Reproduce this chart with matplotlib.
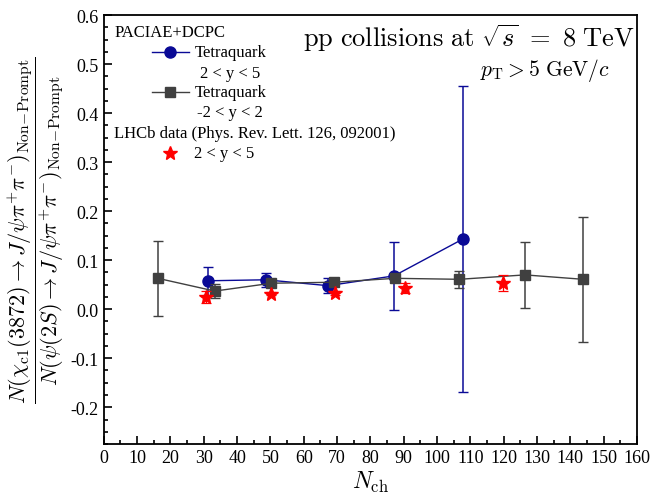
import numpy as np
import matplotlib
matplotlib.use('Agg')
import matplotlib.pyplot as plt
from matplotlib.lines import Line2D

plt.rcParams['font.family'] = 'Liberation Serif'
plt.rcParams['mathtext.fontset'] = 'cm'

# PACIAE+DCPC tetraquark, 2<y<5
nch_fwd = [31.3, 48.6, 67.3, 87.1, 107.7]
r_fwd = [0.058, 0.060, 0.048, 0.068, 0.143]
err_fwd = [0.028, 0.014, 0.015, 0.069, 0.312]

# PACIAE+DCPC tetraquark, -2<y<2
nch_mid = [16.2, 33.3, 50.3, 69.0, 87.4, 106.7, 126.4, 143.8]
r_mid = [0.063, 0.037, 0.053, 0.055, 0.063, 0.061, 0.070, 0.061]
err_mid = [0.077, 0.015, 0.004, 0.004, 0.004, 0.017, 0.068, 0.128]

# LHCb, 2<y<5
nch_lhcb = [30.6, 50.2, 69.4, 90.4, 119.9]
r_lhcb = [0.025, 0.032, 0.034, 0.043, 0.053]
err_lhcb = [0.012, 0.004, 0.004, 0.010, 0.016]

blue = '#0a0a96'
grey = '#404040'

fig = plt.figure(figsize=(6.53, 5.02), dpi=100)
ax = fig.add_axes([0.159, 0.1135, 0.8165, 0.8545])

ax.errorbar(nch_fwd, r_fwd, yerr=err_fwd, color=blue, marker='o', ms=8,
            lw=1.0, elinewidth=1.1, capsize=3.5, capthick=1.0, zorder=3)
ax.errorbar(nch_mid, r_mid, yerr=err_mid, color=grey, marker='s', ms=7,
            lw=1.0, elinewidth=1.1, capsize=3.5, capthick=1.0, zorder=4)
ax.errorbar(nch_lhcb, r_lhcb, yerr=err_lhcb, color='red', marker='*', ms=10,
            ls='none', elinewidth=0.9, capsize=3.5, capthick=0.9, zorder=5)

ax.set_xlim(0, 160)
ax.set_ylim(-0.275, 0.6)
ax.set_xticks(np.arange(0, 161, 10))
ax.set_xticks(np.arange(0, 161, 5), minor=True)
ax.set_yticks(np.arange(-0.2, 0.61, 0.1))
ax.set_yticks(np.arange(-0.275, 0.601, 0.025), minor=True)
ax.set_yticklabels(['-0.2', '-0.1', '0.0', '0.1', '0.2', '0.3', '0.4', '0.5', '0.6'])
ax.tick_params(which='both', direction='in', top=False, right=False,
               labelsize=13, width=1.2)
ax.tick_params(which='major', length=6)
ax.tick_params(which='minor', length=3)
for s in ax.spines.values():
    s.set_linewidth(1.3)

ax.set_xlabel(r'$N_{\rm ch}$', fontsize=17, labelpad=2)
ax.set_ylabel(r'$\dfrac{N(\chi_{\rm c1}(3872)\rightarrow J/\psi\pi^{+}\pi^{-})_{\rm Non\!-\!Prompt}}'
              r'{N(\psi(2S)\rightarrow J/\psi\pi^{+}\pi^{-})_{\rm Non\!-\!Prompt}}$',
              fontsize=16, labelpad=3)

ax.text(0.996, 0.949, r'$\mathrm{pp\ collisions\ at}\ \sqrt{s}\ =\ 8\ \mathrm{TeV}$',
        transform=ax.transAxes, ha='right', va='center', fontsize=19)
ax.text(0.949, 0.874, r'$p_{\rm T} > 5\ {\rm GeV}/c$',
        transform=ax.transAxes, ha='right', va='center', fontsize=15.5)

# hand-made legend
tr = ax.transAxes
ax.text(0.02, 0.96, 'PACIAE+DCPC', transform=tr, ha='left', va='center', fontsize=12)
ax.add_line(Line2D([0.090, 0.159], [0.913, 0.913], transform=tr, color=blue, lw=1.0))
ax.add_line(Line2D([0.124], [0.913], transform=tr, color=blue, marker='o', ms=8))
ax.text(0.171, 0.913, 'Tetraquark', transform=tr, ha='left', va='center', fontsize=12)
ax.text(0.181, 0.866, '2 < y < 5', transform=tr, ha='left', va='center', fontsize=12)
ax.add_line(Line2D([0.090, 0.159], [0.820, 0.820], transform=tr, color=grey, lw=1.0))
ax.add_line(Line2D([0.124], [0.820], transform=tr, color=grey, marker='s', ms=7))
ax.text(0.171, 0.820, 'Tetraquark', transform=tr, ha='left', va='center', fontsize=12)
ax.text(0.174, 0.773, '-2 < y < 2', transform=tr, ha='left', va='center', fontsize=12)
ax.text(0.02, 0.726, 'LHCb data (Phys. Rev. Lett. 126, 092001)', transform=tr,
        ha='left', va='center', fontsize=12)
ax.add_line(Line2D([0.125], [0.679], transform=tr, color='red', marker='*', ms=10))
ax.text(0.169, 0.679, '2 < y < 5', transform=tr, ha='left', va='center', fontsize=12)

fig.savefig('out.png', dpi=100)
